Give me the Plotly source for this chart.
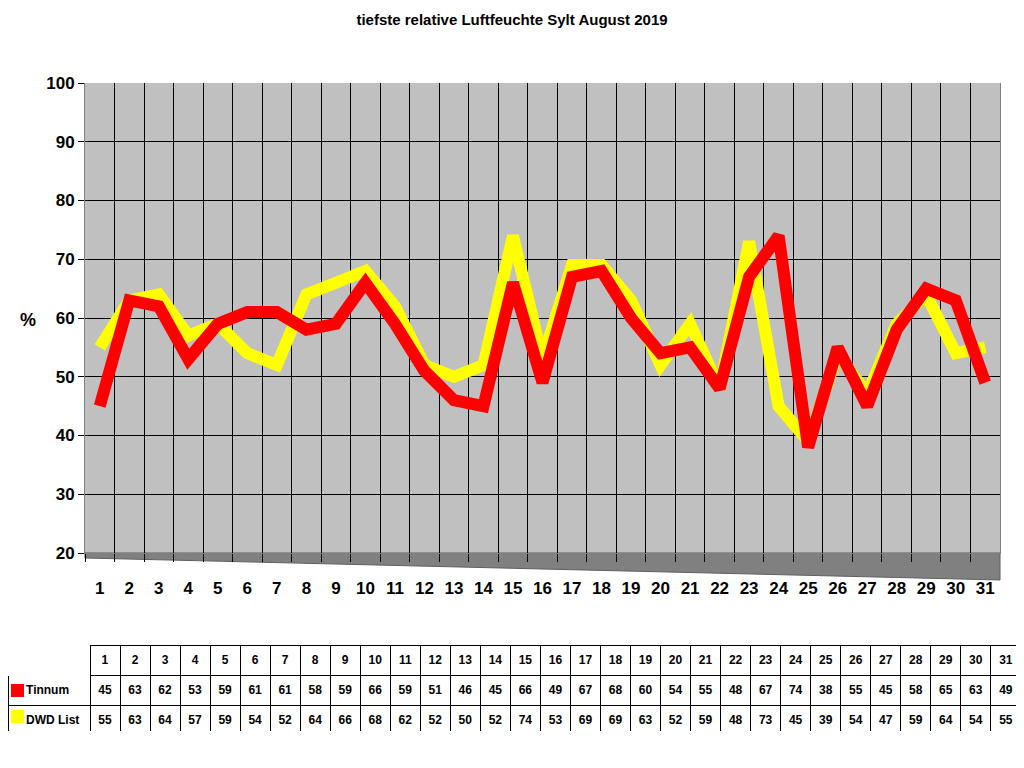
import plotly.graph_objects as go

# daily minimum relative humidity, August 2019
days = list(range(1, 32))
tinnum = [45, 63, 62, 53, 59, 61, 61, 58, 59, 66, 59, 51, 46, 45, 66, 49,
          67, 68, 60, 54, 55, 48, 67, 74, 38, 55, 45, 58, 65, 63, 49]
dwd_list = [55, 63, 64, 57, 59, 54, 52, 64, 66, 68, 62, 52, 50, 52, 74, 53,
            69, 69, 63, 52, 59, 48, 73, 45, 39, 54, 47, 59, 64, 54, 55]
y_ticks = list(range(20, 101, 10))

# the page puts the figure 8px in from the top-left corner
OFF = 8
W, H = 1024 - OFF, 768 - OFF
FONT = "Liberation Sans"


def px_x(p):
    return (p - OFF) / W


def px_y(p):
    return 1 - (p - OFF) / H


fig = go.Figure()

# yellow series sits behind the red one
fig.add_trace(go.Scatter(x=days, y=dwd_list, mode="lines", name="DWD List",
                         line=dict(color="#FFFF00", width=12), showlegend=False))
fig.add_trace(go.Scatter(x=days, y=tinnum, mode="lines", name="Tinnum",
                         line=dict(color="#FF0000", width=12), showlegend=False))

# data table below the chart
pad = "&nbsp;" * 3
cells = [[pad + "<b>Tinnum</b>", pad + "<b>DWD&nbsp;List</b>"]]
for t, d in zip(tinnum, dwd_list):
    cells.append([f"<b>{t}</b>", f"<b>{d}</b>"])
header = [""] + [f"<b>{d}</b>" for d in days]

fig.add_trace(go.Table(
    domain=dict(x=[px_x(8), px_x(1021)], y=[px_y(732), px_y(645)]),
    columnwidth=[82] + [30] * 31,
    header=dict(values=header, height=28, align="center",
                line=dict(color=["white"] + ["black"] * 31, width=1),
                fill=dict(color="white"),
                font=dict(family=FONT, size=12, color="black")),
    cells=dict(values=cells, height=26, align=["left"] + ["center"] * 31,
               line=dict(color="black", width=1),
               fill=dict(color="white"),
               font=dict(family=FONT, size=12, color="black")),
))

# legend keys in the table
for i, col in enumerate(["#FF0000", "#FFFF00"]):
    top = 684 + i * 26
    fig.add_shape(type="rect", xref="paper", yref="paper",
                  x0=px_x(11), x1=px_x(24), y0=px_y(top + 13), y1=px_y(top),
                  fillcolor=col, line=dict(width=0), layer="above")

# dark floor under the plot area
floor = [(85, 553), (1000, 553), (1000, 580), (85, 558)]
fig.add_shape(type="path", xref="paper", yref="paper",
              path="M " + " L ".join(f"{px_x(a):.4f},{px_y(b):.4f}" for a, b in floor) + " Z",
              fillcolor="#808080", line=dict(color="#606060", width=1),
              layer="below")

fig.update_layout(
    width=W, height=H,
    paper_bgcolor="white",
    plot_bgcolor="#C0C0C0",
    margin=dict(l=0, r=0, t=0, b=0),
    title=dict(text="<b>tiefste relative Luftfeuchte Sylt August 2019</b>",
               x=px_x(512), xanchor="center", y=px_y(20), yanchor="middle",
               font=dict(family=FONT, size=15, color="black")),
    font=dict(family=FONT, color="black"),
    xaxis=dict(domain=[px_x(85), px_x(1000)], automargin=False,
               range=[0.5, 31.5], tickvals=days,
               ticktext=[f"<b>{d}</b>" for d in days],
               tickfont=dict(size=17), showgrid=False, zeroline=False,
               ticks="outside", ticklen=20, tickcolor="rgba(0,0,0,0)",
               minor=dict(tickvals=[d + 0.5 for d in range(0, 31)],
                          showgrid=True, gridcolor="black", gridwidth=1,
                          ticks="outside", ticklen=8, tickcolor="black"),
               showline=True, linecolor="#808080"),
    yaxis=dict(domain=[px_y(553), px_y(83)], automargin=False,
               range=[20, 100], tickvals=y_ticks,
               ticktext=[f"<b>{v}</b>" for v in y_ticks],
               tickfont=dict(size=17), gridcolor="black", gridwidth=1,
               zeroline=False, ticks="outside", ticklen=6, tickcolor="black",
               showline=True, linecolor="#808080", mirror=True),
    annotations=[dict(text="<b>%</b>", xref="paper", yref="paper",
                      x=px_x(18), y=px_y(320), showarrow=False,
                      font=dict(size=18, family=FONT, color="black"))],
)

fig.write_html("out.html")
